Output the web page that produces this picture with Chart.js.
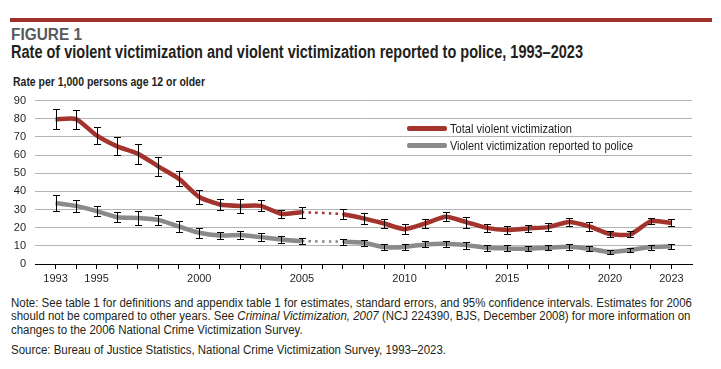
<!DOCTYPE html>
<html>
<head>
<meta charset="utf-8">
<script src="https://cdn.jsdelivr.net/npm/chart.js@4.4.1/dist/chart.umd.min.js"></script>
<style>
  body { margin:0; background:#fff; width:721px; height:369px; overflow:hidden; position:relative;
         font-family:"Liberation Sans",Arial,sans-serif; color:#231f20; }
  .t { position:absolute; white-space:nowrap; transform-origin:0 0; }
  .bar { position:absolute; left:10px; top:18px; width:702px; height:4px; background:#a0302a; }
  .fig { left:11px; top:27px; font-weight:bold; font-size:16px; line-height:16px; color:#58595b; }
  .title { left:11px; top:43px; font-weight:bold; font-size:18px; line-height:18px; }
  .ylab { left:13px; top:75.5px; font-weight:bold; font-size:12px; line-height:12px; }
  .box { position:absolute; left:0; top:85px; width:721px; height:207px; }
  .sw { position:absolute; left:407px; width:40px; height:5px; border-radius:2px; }
  .leg { left:450px; font-size:13px; line-height:13px; }
  .note { left:11px; top:296.7px; font-size:12px; line-height:13.7px; }
  .src { left:11px; top:344px; font-size:12px; line-height:12px; }
</style>
</head>
<body>
<div class="bar"></div>
<div class="t fig" data-w="71">FIGURE 1</div>
<div class="t title" data-w="572">Rate of violent victimization and violent victimization reported to police, 1993–2023</div>
<div class="t ylab" data-w="192">Rate per 1,000 persons age 12 or older</div>
<div class="box"><canvas id="line-chart"></canvas></div>
<div class="sw" style="top:126px;background:#a3342d"></div>
<div class="sw" style="top:142.5px;background:#8a8a8a"></div>
<div class="t leg" style="top:121.7px" data-w="122">Total violent victimization</div>
<div class="t leg" style="top:139px" data-w="183">Violent victimization reported to police</div>
<div class="t note" data-w="681">Note: See table 1 for definitions and appendix table 1 for estimates, standard errors, and 95% confidence intervals. Estimates for 2006<br>should not be compared to other years. See <i>Criminal Victimization, 2007</i> (NCJ 224390, BJS, December 2008) for more information on<br>changes to the 2006 National Crime Victimization Survey.</div>
<div class="t src" data-w="435">Source: Bureau of Justice Statistics, National Crime Victimization Survey, 1993–2023.</div>
<script>
var years = [1993, 1994, 1995, 1996, 1997, 1998, 1999, 2000, 2001, 2002, 2003, 2004, 2005, 2006, 2007, 2008,
  2009, 2010, 2011, 2012, 2013, 2014, 2015, 2016, 2017, 2018, 2019, 2020, 2021, 2022, 2023];
// 2006 not comparable -> null, joined with a dotted segment
var totalRate = [79.7, 79.8, 70.8, 64.8, 60.8, 53.8, 47.0, 36.9, 32.8, 32.0, 32.0, 27.6, 28.5, null, 27.4, 25.1,
  22.3, 19.2, 22.3, 26.0, 23.1, 19.9, 18.7, 19.6, 20.3, 23.2, 20.7, 16.5, 16.3, 23.6, 22.7];
var totalErr = [5.5, 5.2, 4.6, 5.0, 5.5, 5.2, 4.2, 3.8, 3.0, 3.9, 3.0, 2.4, 3.0, null, 2.7, 3.1,
  2.3, 2.6, 2.6, 2.4, 3.0, 2.2, 2.0, 1.8, 2.1, 2.4, 2.5, 1.8, 1.7, 1.5, 1.9];
var reportedRate = [33.6, 32.0, 29.1, 25.8, 25.4, 24.3, 20.7, 17.2, 15.7, 16.0, 14.8, 13.5, 12.6, null, 12.3, 11.7,
  9.3, 9.4, 10.8, 11.2, 10.4, 9.0, 8.6, 8.4, 9.0, 9.5, 8.4, 6.6, 7.7, 9.3, 9.7];
var reportedErr = [4.2, 3.4, 2.9, 2.7, 3.8, 2.9, 2.8, 2.8, 2.1, 2.3, 2.3, 1.8, 1.6, null, 1.7, 1.7,
  1.8, 1.7, 1.6, 1.6, 1.9, 1.6, 1.7, 1.5, 1.5, 1.6, 1.3, 1.2, 1.2, 1.4, 1.5];
var yearLabels = [1993, 1995, 2000, 2005, 2010, 2015, 2020, 2023];

var redColor = '#a3342d';
var greyColor = '#8a8a8a';
var font = 'Liberation Sans, Arial, sans-serif';

// squeeze the html text to the condensed widths of the original
document.querySelectorAll('[data-w]').forEach(function(el) {
  var w = el.getBoundingClientRect().width;
  el.style.transform = 'scaleX(' + (parseFloat(el.dataset.w) / w) + ')';
});

function points(vals) {
  return years.map(function(yr, i) { return {x: yr, y: vals[i]}; });
}

// dotted across the 2006 gap
function isGap(c) { return c.p0.skip || c.p1.skip; }
var gapSegment = {
  borderDash: function(c) { return isGap(c) ? [2.5, 4.2] : undefined; },
  borderWidth: function(c) { return isGap(c) ? 2.5 : undefined; }
};

var errorBars = {
  id: 'errorBars',
  afterDatasetsDraw: function(chart) {
    var ctx = chart.ctx, xs = chart.scales.x, ys = chart.scales.y;
    ctx.save();
    ctx.strokeStyle = '#000';
    ctx.lineWidth = 1;
    chart.data.datasets.forEach(function(ds) {
      ds.values.forEach(function(v, i) {
        if (v == null) return;
        var e = ds.errors[i];
        var x = Math.round(xs.getPixelForValue(years[i])) + 0.5;
        var y1 = Math.round(ys.getPixelForValue(v + e)) + 0.5;
        var y2 = Math.round(ys.getPixelForValue(v - e)) + 0.5;
        ctx.beginPath();
        ctx.moveTo(x, y1); ctx.lineTo(x, y2);
        ctx.moveTo(x - 3.5, y1); ctx.lineTo(x + 3.5, y1);
        ctx.moveTo(x - 3.5, y2); ctx.lineTo(x + 3.5, y2);
        ctx.stroke();
      });
    });
    ctx.restore();
  }
};

var mychart = document.getElementById('line-chart');
var myLineChart = new Chart(mychart, {
  type: 'line',
  data: {
    datasets: [
      {
        label: 'Violent victimization reported to police',
        data: points(reportedRate),
        values: reportedRate,
        errors: reportedErr,
        borderColor: greyColor,
        borderWidth: 4.5,
        borderJoinStyle: 'round',
        pointRadius: 0,
        tension: 0.2,
        spanGaps: true,
        segment: gapSegment,
        fill: false
      },
      {
        label: 'Total violent victimization',
        data: points(totalRate),
        values: totalRate,
        errors: totalErr,
        borderColor: redColor,
        borderWidth: 4.5,
        borderJoinStyle: 'round',
        pointRadius: 0,
        tension: 0.2,
        spanGaps: true,
        segment: gapSegment,
        fill: false
      }
    ]
  },
  options: {
    responsive: true,
    maintainAspectRatio: false,
    animation: false,
    layout: { padding: { top: 9, right: 29, left: 0, bottom: 0 } },
    plugins: { legend: { display: false }, tooltip: { enabled: false } },
    scales: {
      x: {
        type: 'linear',
        min: 1992,
        max: 2024,
        afterFit: function(s) { s.height = 28; },
        border: { display: true, color: '#000', width: 1 },
        grid: {
          drawOnChartArea: false,
          drawTicks: true,
          tickLength: 5,
          color: function(c) { return (c.tick && (c.tick.value === 1992 || c.tick.value === 2024)) ? 'rgba(0,0,0,0)' : '#000'; }
        },
        ticks: {
          stepSize: 1,
          autoSkip: false,
          maxRotation: 0,
          padding: 3,
          color: '#231f20',
          font: { family: font, size: 11 },
          callback: function(v) { return yearLabels.indexOf(v) >= 0 ? String(v) : ''; }
        }
      },
      y: {
        min: 0,
        max: 90,
        afterFit: function(s) { s.width = 35; },
        border: { display: false },
        grid: { color: '#b4b4b4', lineWidth: 1, drawTicks: false },
        ticks: {
          stepSize: 10,
          autoSkip: false,
          padding: 9,
          color: '#231f20',
          font: { family: font, size: 11 }
        }
      }
    }
  },
  plugins: [errorBars]
});
</script>
</body>
</html>
